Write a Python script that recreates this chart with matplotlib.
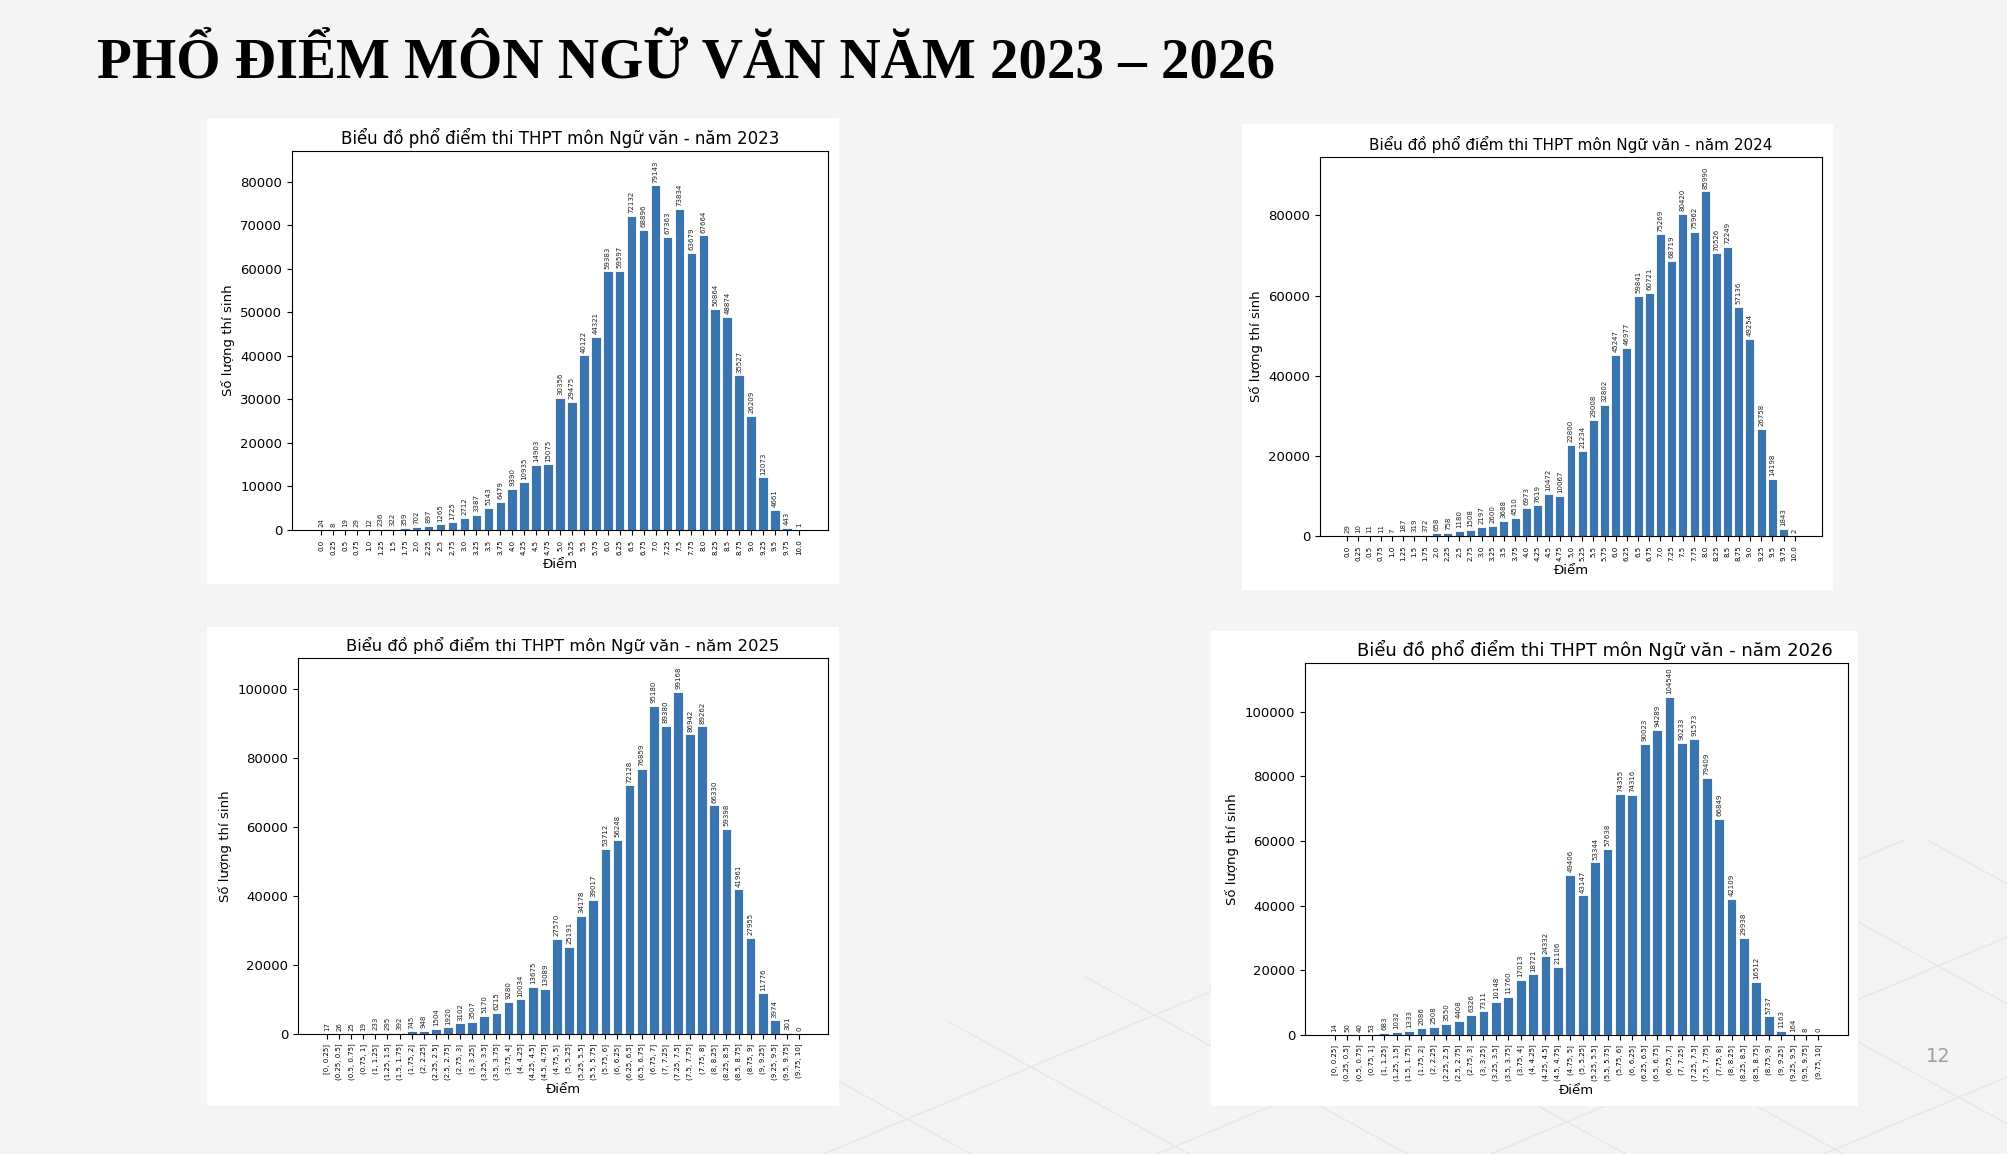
import numpy as np
import matplotlib.pyplot as plt
from matplotlib.patches import Rectangle, Polygon

# score ticks for 2023 / 2024 (single scores)
scores = [0.0, 0.25, 0.5, 0.75, 1.0, 1.25, 1.5, 1.75, 2.0, 2.25, 2.5, 2.75,
          3.0, 3.25, 3.5, 3.75, 4.0, 4.25, 4.5, 4.75, 5.0, 5.25, 5.5, 5.75,
          6.0, 6.25, 6.5, 6.75, 7.0, 7.25, 7.5, 7.75, 8.0, 8.25, 8.5, 8.75,
          9.0, 9.25, 9.5, 9.75, 10.0]

counts_2023 = [24, 8, 19, 29, 12, 236, 322, 359, 702, 897, 1265, 1725,
               2712, 3387, 5143, 6479, 9390, 10935, 14903, 15075, 30356, 29475, 40122, 44321,
               59383, 59597, 72132, 68896, 79143, 67363, 73834, 63679, 67664, 50864, 48874, 35527,
               26209, 12073, 4661, 443, 1]

counts_2024 = [29, 10, 11, 11, 7, 187, 319, 372, 658, 758, 1180, 1508,
               2197, 2600, 3688, 4510, 6973, 7619, 10472, 10067, 22800, 21234, 29008, 32802,
               45247, 46977, 59841, 60721, 75269, 68719, 80420, 75962, 85990, 70526, 72249, 57136,
               49254, 26758, 14198, 1843, 2]

# 2025 / 2026 are grouped by interval
interval_labels = ["[0, 0.25]"] + ["(%g, %g]" % (a, b) for a, b in zip(scores[1:-1], scores[2:])]

counts_2025 = [17, 26, 25, 19, 233, 295, 392, 745, 948, 1504, 1920, 3102, 3507,
               5170, 6215, 9280, 10034, 13675, 13089, 27570, 25191, 34178, 39017,
               53712, 56248, 72128, 76859, 95180,
               89380, 99168, 86942, 89262, 66330, 59398, 41961, 27955, 11776, 3974, 301, 0]

counts_2026 = [14, 50, 40, 53, 683, 1032, 1333, 2086, 2508, 3550, 4408, 6326, 7311,
               10148, 11760, 17013, 18721, 24332, 21106, 49406, 43147, 53344, 57638,
               74355, 74316, 90023, 94289, 104540,
               90233, 91573, 79409, 66849, 42109, 29938, 16512, 5737, 1163, 164, 8, 0]

score_labels = [str(s) for s in scores]

W, H = 2008, 1154
fig = plt.figure(figsize=(W / 100, H / 100), dpi=100)
fig.patch.set_facecolor('#f4f4f4')

BAR = '#3a75af'

# faint perspective floor grid in the lower right of the slide (decoration)
bg = fig.add_axes([0, 0, 1, 1], zorder=-5)
bg.set_xlim(0, W)
bg.set_ylim(H, 0)
bg.axis('off')
floor = Polygon([(800, 1154), (2008, 1154), (2008, 840), (1500, 840), (800, 1070)],
                closed=True, transform=bg.transData, facecolor='none', edgecolor='none')
bg.add_patch(floor)
for k in range(-8, 12):
    xs = np.array([0, W])
    la, = bg.plot(xs, 1500 + 140 * k - 0.42 * xs, color='#e8e8e8', lw=1.1)
    lb, = bg.plot(xs, -700 + 120 * k + 0.55 * xs, color='#e8e8e8', lw=1.1)
    la.set_clip_path(floor)
    lb.set_clip_path(floor)


def px_rect(x0, y0, x1, y1):
    return [x0 / W, 1 - y1 / H, (x1 - x0) / W, (y1 - y0) / H]


def draw_panel(card, axbox, labels, counts, year, title_size=12, title_x=0.5):
    l, b, w, h = px_rect(*card)
    fig.add_artist(Rectangle((l, b), w, h, transform=fig.transFigure,
                             facecolor='white', edgecolor='none', zorder=0))
    ax = fig.add_axes(px_rect(*axbox))
    x = np.arange(len(counts))
    bars = ax.bar(x, counts, width=0.8, color=BAR, edgecolor='white', linewidth=0.6)
    ax.bar_label(bars, labels=[str(c) for c in counts], rotation=90,
                 fontsize=5, padding=2, color='#222222')
    ax.set_xticks(x)
    ax.set_xticklabels(labels, rotation=90, fontsize=5)
    ax.tick_params(axis='y', labelsize=9.5)
    ax.set_ylim(0, max(counts) * 1.1)
    ax.set_title('Biểu đồ phổ điểm thi THPT môn Ngữ văn - năm %d' % year,
                 fontsize=title_size, pad=5, x=title_x)
    ax.set_ylabel('Số lượng thí sinh', fontsize=9.5)
    ax.set_xlabel('Điểm', fontsize=9.5, labelpad=2)
    return ax


draw_panel((207, 118, 839, 584), (292, 151, 828, 530), score_labels, counts_2023, 2023, 12)
draw_panel((1242, 124, 1833, 590), (1320, 157, 1822, 536), score_labels, counts_2024, 2024, 11)
draw_panel((207, 627, 839, 1106), (298, 658, 828, 1034), interval_labels, counts_2025, 2025, 11.75)
draw_panel((1211, 631, 1858, 1106), (1305, 663, 1848, 1035), interval_labels, counts_2026, 2026, 13, 0.533)

# slide title and page number
fig.text(97 / W, 1 - 77 / H, 'PHỔ ĐIỂM MÔN NGỮ VĂN NĂM 2023 – 2026',
         family='Liberation Serif', fontweight='bold', fontsize=41, color='black',
         ha='left', va='baseline')
fig.text(1938 / W, 1 - 1062 / H, '12', fontsize=14, color='#a0a0a0',
         ha='center', va='baseline')

fig.savefig('out.png', dpi=100, facecolor=fig.get_facecolor())
